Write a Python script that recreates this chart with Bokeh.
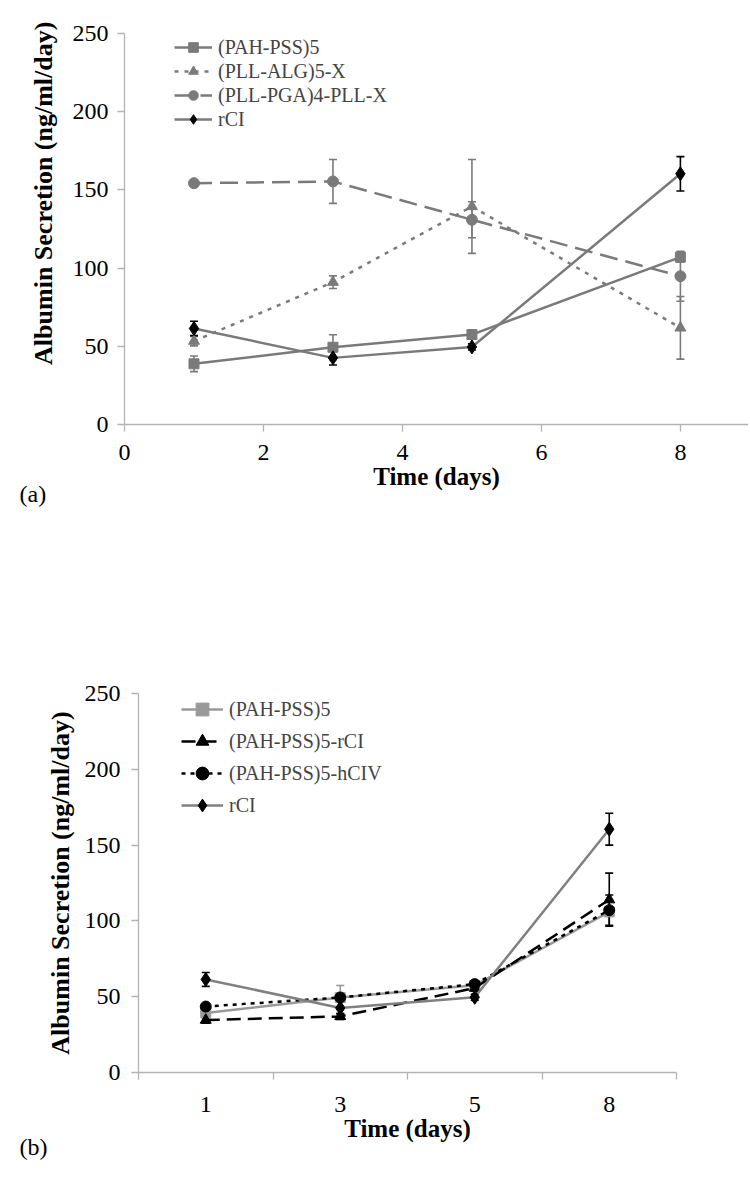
from bokeh.plotting import figure
from bokeh.models import (Range1d, FixedTicker, Whisker, TeeHead, ColumnDataSource,
                          Legend, LegendItem, Title)
from bokeh.layouts import column
from bokeh.embed import file_html
from bokeh.resources import INLINE

# ---------------- data: panel (a) ----------------
days_a = [1, 3, 5, 8]
a_ticks = [0, 2, 4, 6, 8]
a_pah = [38.8, 49.4, 57.5, 107.0]
a_pah_err = [5.0, 8.0, 3.0, 3.0]
a_alg = [53.3, 91.0, 139.4, 61.8]
a_alg_err = [3.0, 4.0, 30.0, 20.0]
a_pga = [154.3, 155.4, 130.9, 94.8]
a_pga_err = [1.0, 14.0, 11.5, 16.0]
a_rci = [61.4, 42.6, 49.6, 160.3]
a_rci_err = [4.6, 4.6, 2.0, 11.0]

# ---------------- data: panel (b) ----------------
days_b = ["1", "3", "5", "8"]
b_pah = [39.2, 49.4, 57.5, 106.0]
b_pah_err = [3.0, 8.0, 3.0, 3.0]
b_prci = [34.6, 37.0, 55.7, 114.0]
b_prci_err = [2.0, 2.0, 2.0, 17.5]
b_hciv = [43.5, 49.5, 58.3, 107.1]
b_hciv_err = [2.0, 2.0, 2.0, 10.0]
b_rci = [61.4, 42.6, 49.6, 160.5]
b_rci_err = [4.6, 4.0, 2.0, 10.5]

y_ticks = [0, 50, 100, 150, 200, 250]
y_title = "Albumin Secretion (ng/ml/day)"
x_title = "Time (days)"

FONT = "Liberation Serif"
AXIS_COL = "#b3b3b3"
GRAY = "#7a7a7a"


def style_axes(p):
    for ax in (p.xaxis[0], p.yaxis[0]):
        ax.axis_line_color = AXIS_COL
        ax.axis_line_width = 1.3
        ax.major_tick_line_color = AXIS_COL
        ax.major_tick_line_width = 1.3
        ax.minor_tick_line_color = AXIS_COL
        ax.minor_tick_line_width = 1.3
        ax.major_tick_in = 0
        ax.minor_tick_in = 0
        ax.major_label_text_font = FONT
        ax.major_label_text_font_size = "24px"
        ax.major_label_text_color = "black"
        ax.axis_label_text_font = FONT
        ax.axis_label_text_font_style = "bold"
        ax.axis_label_text_font_size = "25px"
        ax.axis_label_text_color = "black"
    p.xgrid.visible = False
    p.ygrid.visible = False
    p.outline_line_color = None
    try:
        p.frame_align = False
    except Exception:
        pass


def series(p, xs, ys, errs, line_color, dash, marker, mcolor, msize, ecolor, width=2.5):
    src = ColumnDataSource(dict(x=xs, y=ys,
                                lo=[v - e for v, e in zip(ys, errs)],
                                hi=[v + e for v, e in zip(ys, errs)]))
    w = Whisker(base="x", upper="hi", lower="lo", source=src,
                line_color=ecolor, line_width=1.6,
                upper_head=TeeHead(size=8, line_color=ecolor, line_width=1.6),
                lower_head=TeeHead(size=8, line_color=ecolor, line_width=1.6))
    p.add_layout(w)
    lr = p.line("x", "y", source=src, line_color=line_color, line_width=width, line_dash=dash)
    mr = p.scatter("x", "y", source=src, marker=marker, size=msize,
                   fill_color=mcolor, line_color=mcolor)
    return [lr, mr]


def tag(p, text, offset, standoff):
    # panel tag "(a)"/"(b)" as a left-aligned title under the x axis
    t = Title(text=text, align="left", offset=offset, standoff=standoff,
              text_font=FONT, text_font_size="24px", text_font_style="normal",
              text_color="black")
    p.add_layout(t, "below")


# ---------------- panel (a) ----------------
pa = figure(width=748, height=520, output_backend="svg", toolbar_location=None,
            x_range=Range1d(0, 8.98), y_range=Range1d(0, 250),
            min_border_left=124, min_border_right=0, min_border_top=33, min_border_bottom=96)
style_axes(pa)
pa.xaxis.ticker = FixedTicker(ticks=a_ticks, minor_ticks=[])
pa.yaxis.ticker = FixedTicker(ticks=y_ticks, minor_ticks=[])
pa.xaxis.major_tick_out = 7
pa.yaxis.major_tick_out = 7
pa.xaxis.major_label_standoff = 13
pa.yaxis.major_label_standoff = 9
pa.xaxis.axis_label = x_title
pa.xaxis.axis_label_standoff = 0
# title sits higher than the frame centre in the original: pad its start
pa.yaxis.axis_label = "\u00a0" * 11 + y_title
pa.yaxis.axis_label_text_font_size = "26px"
pa.yaxis.axis_label_standoff = 12

ra1 = series(pa, days_a, a_pah, a_pah_err, GRAY, "solid", "square", GRAY, 10, GRAY)
ra2 = series(pa, days_a, a_alg, a_alg_err, GRAY, "4 6", "triangle", GRAY, 11, GRAY)
ra3 = series(pa, days_a, a_pga, a_pga_err, GRAY, "18 8", "circle", GRAY, 11, GRAY)
ra4 = series(pa, days_a, a_rci, a_rci_err, GRAY, "solid", "diamond", "black", 14, "black")

leg_a = Legend(items=[LegendItem(label="(PAH-PSS)5", renderers=ra1),
                      LegendItem(label="(PLL-ALG)5-X", renderers=ra2),
                      LegendItem(label="(PLL-PGA)4-PLL-X", renderers=ra3),
                      LegendItem(label="rCI", renderers=ra4)],
               location=(50, 293), padding=0, margin=0, spacing=0,
               label_height=24, glyph_height=24, glyph_width=38, label_standoff=6,
               label_text_font=FONT, label_text_font_size="20px",
               border_line_color=None, background_fill_alpha=0)
pa.add_layout(leg_a, "center")
tag(pa, "(a)", -105, -27)

# ---------------- panel (b) ----------------
xb = list(range(1, len(days_b) + 1))
pb = figure(width=748, height=670, output_backend="svg", toolbar_location=None,
            x_range=Range1d(0.5, len(days_b) + 0.5), y_range=Range1d(0, 250),
            min_border_left=138, min_border_right=72, min_border_top=173, min_border_bottom=118)
style_axes(pb)
pb.xaxis.ticker = FixedTicker(ticks=xb, minor_ticks=[i + 0.5 for i in range(len(days_b) + 1)])
pb.xaxis.major_label_overrides = {i: d for i, d in zip(xb, days_b)}
pb.yaxis.ticker = FixedTicker(ticks=y_ticks, minor_ticks=[])
pb.xaxis.major_tick_out = 0
pb.xaxis.minor_tick_out = 7
pb.yaxis.major_tick_out = 7
pb.xaxis.major_label_standoff = 17
pb.yaxis.major_label_standoff = 11
pb.xaxis.axis_label = x_title
pb.yaxis.axis_label = y_title
pb.yaxis.axis_label_text_font_size = "26px"
pb.xaxis.axis_label_standoff = 0
pb.yaxis.axis_label_standoff = 7

LG = "#9a9a9a"
rb1 = series(pb, xb, b_pah, b_pah_err, LG, "solid", "square", LG, 10, LG)
rb2 = series(pb, xb, b_prci, b_prci_err, "black", "14 7", "triangle", "black", 11, "black")
rb3 = series(pb, xb, b_hciv, b_hciv_err, "black", "4 5", "circle", "black", 11, "black")
rb4 = series(pb, xb, b_rci, b_rci_err, "#808080", "solid", "diamond", "black", 14, "black")

leg_b = Legend(items=[LegendItem(label="(PAH-PSS)5", renderers=rb1),
                      LegendItem(label="(PAH-PSS)5-rCI", renderers=rb2),
                      LegendItem(label="(PAH-PSS)5-hCIV", renderers=rb3),
                      LegendItem(label="rCI", renderers=rb4)],
               location=(43, 251), padding=0, margin=0, spacing=0,
               label_height=32, glyph_height=32, glyph_width=42, label_standoff=6,
               label_text_font=FONT, label_text_font_size="20px",
               border_line_color=None, background_fill_alpha=0)
pb.add_layout(leg_b, "center")
tag(pb, "(b)", -119, -31)

layout = column(pa, pb, spacing=0)
open("out.html", "w").write(file_html(layout, INLINE))
